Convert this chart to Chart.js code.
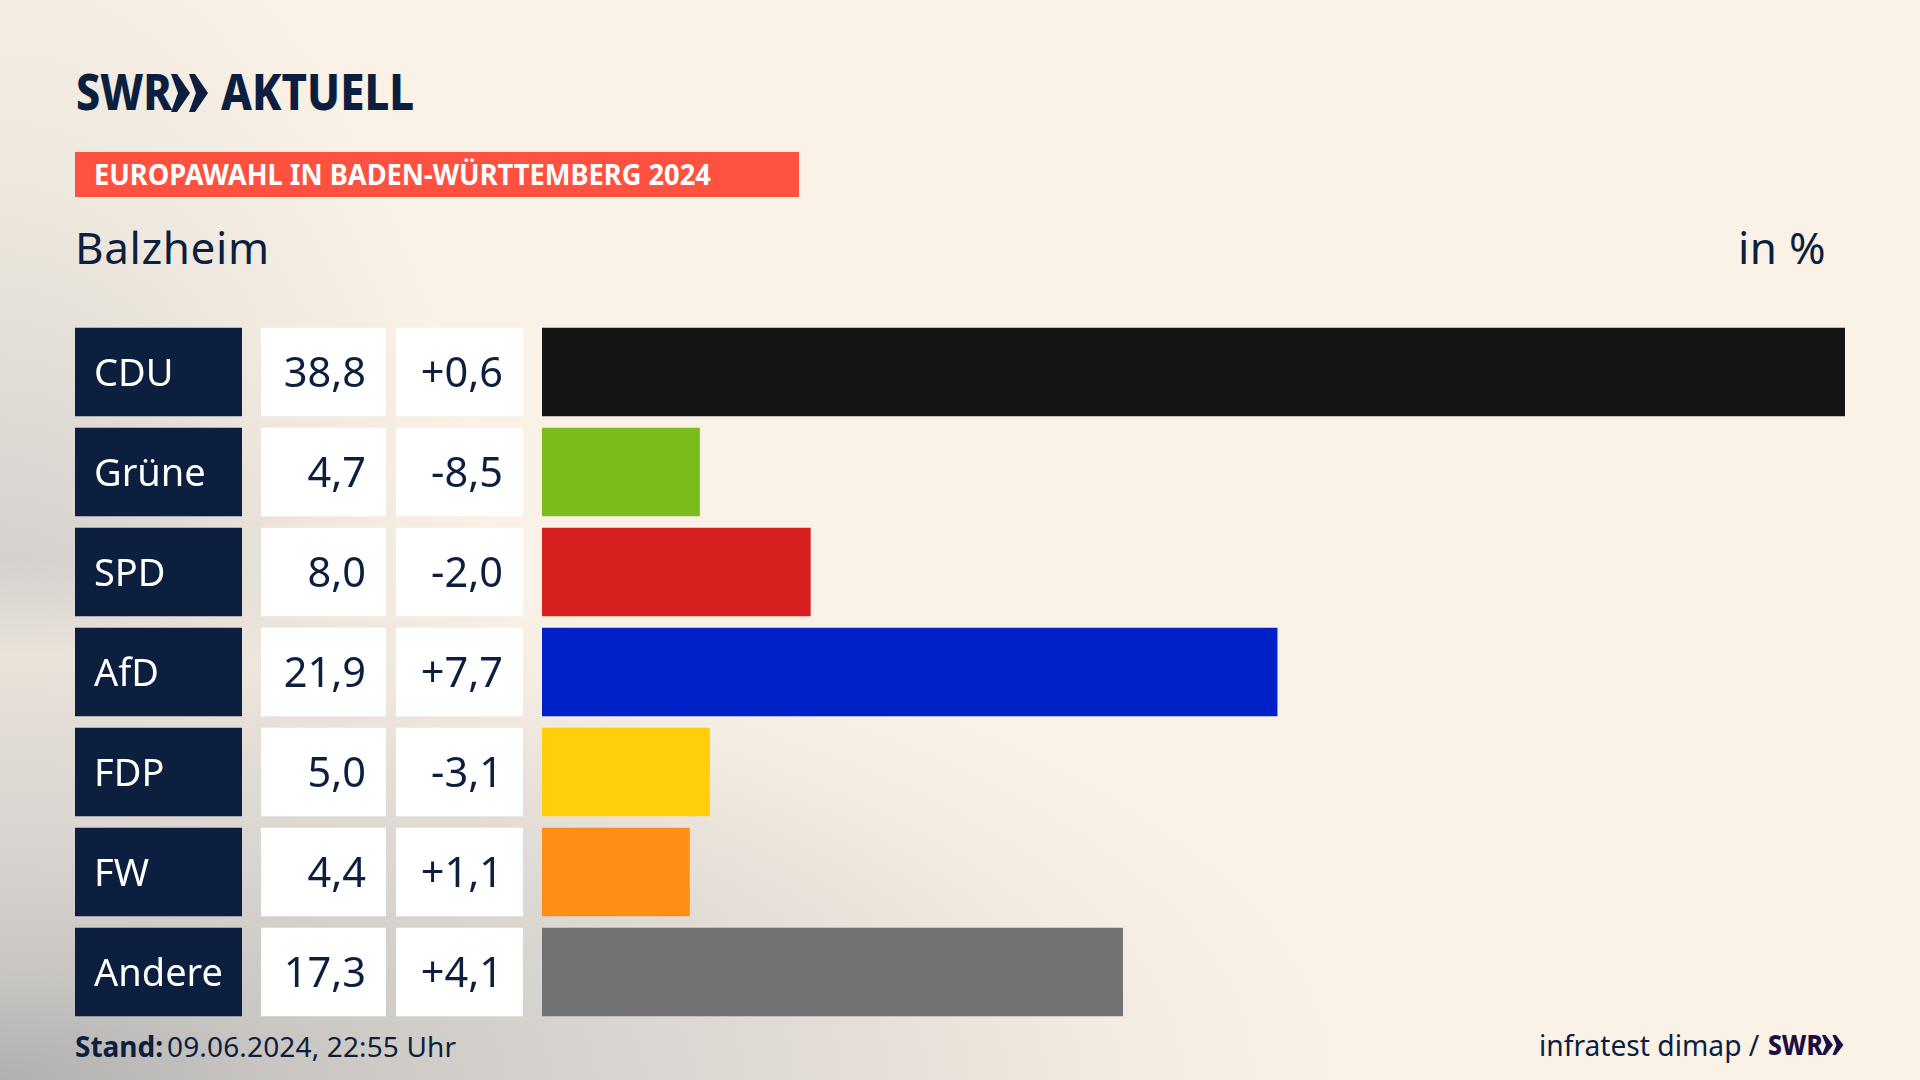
<!DOCTYPE html>
<html lang="de">
<head>
<meta charset="utf-8">
<title>Europawahl Balzheim</title>
<script src="https://cdn.jsdelivr.net/npm/chart.js@4"></script>
<style>
  html, body { margin: 0; padding: 0; }
  body {
    width: 1920px; height: 1080px; overflow: hidden; position: relative;
    font-family: "Noto Sans", sans-serif; color: #0c1f3f;
    background:
      radial-gradient(ellipse 1350px 520px at 0 100%, #b0b0b0 0%, #cac7c3 22%, #d8d4cf 45%, rgba(229,222,215,.9) 67%, rgba(241,233,223,.8) 82%, rgba(251,242,231,0) 100%),
      radial-gradient(ellipse 560px 1250px at 0 100%, #b0b0b0 0%, #d8d4cf 45%, rgba(236,230,221,.85) 72%, rgba(251,242,231,0) 100%),
      #fbf2e7;
  }
  canvas { position: absolute; left: 0; top: 0; }
  .txt { position: absolute; white-space: nowrap; line-height: 1; }
  #logo span { position: absolute; top: 0; font-weight: 800; font-size: 50px; line-height: 1; transform-origin: 0 0; }
  #banner { position: absolute; left: 75px; top: 152px; width: 724px; height: 45px; background: #ff5140; }
</style>
</head>
<body>
<div id="logo" class="txt" style="left:75px;top:66px;">
  <span style="left:1px;transform:scaleX(.86);">SWR</span>
  <span style="left:146px;transform:scaleX(.875);">AKTUELL</span>
</div>
<svg style="position:absolute;left:171px;top:74px" width="38" height="38" viewBox="0 0 38 38">
  <polygon fill="#0c1f3f" points="0,0 6,0 19,19 6,38 0,38 7,19"/>
  <polygon fill="#0c1f3f" points="18,0 24,0 37,19 24,38 18,38 25,19"/>
</svg>
<div id="banner"></div>
<div class="txt" id="bannerText" style="left:94px;top:160px;font-size:28px;font-weight:700;color:#fff;transform:scaleX(.973);transform-origin:0 0;">EUROPAWAHL IN BADEN-WÜRTTEMBERG 2024</div>
<div class="txt" style="left:75px;top:225px;font-size:44px;letter-spacing:.6px;">Balzheim</div>
<div class="txt" style="left:1738px;top:225px;font-size:44px;letter-spacing:.3px;">in %</div>
<div class="txt" style="left:75px;top:1032px;font-size:28px;font-weight:700;">Stand:</div>
<div class="txt" style="left:167px;top:1032px;font-size:28px;letter-spacing:.15px;">09.06.2024, 22:55 Uhr</div>
<div class="txt" style="left:1539px;top:1031px;font-size:28.2px;">infratest dimap /</div>
<div class="txt" style="left:1768px;top:1030px;font-size:28px;font-weight:800;color:#1d0f3f;transform:scaleX(.88);transform-origin:0 0;">SWR</div>
<svg style="position:absolute;left:1822px;top:1035px" width="22" height="20" viewBox="0 0 38 38" preserveAspectRatio="none">
  <polygon fill="#1d0f3f" points="0,0 6,0 19,19 6,38 0,38 7,19"/>
  <polygon fill="#1d0f3f" points="18,0 24,0 37,19 24,38 18,38 25,19"/>
</svg>
<canvas id="chart" width="1920" height="1080"></canvas>
<script>
const parties = ['CDU', 'Grüne', 'SPD', 'AfD', 'FDP', 'FW', 'Andere'];
const shares = [38.8, 4.7, 8.0, 21.9, 5.0, 4.4, 17.3];
const changes = [0.6, -8.5, -2.0, 7.7, -3.1, 1.1, 4.1];
const partyColors = ['#141414', '#7abd1a', '#d7201f', '#0021c7', '#ffcf0a', '#ff8e16', '#717273'];

const fmt = v => v.toFixed(1).replace('.', ',');
const fmtChange = v => (v > 0 ? '+' : '') + fmt(v);

// table cells to the left of the bars, rows taken from the y scale
const tableCells = {
  id: 'tableCells',
  afterDatasetsDraw(chart) {
    const { ctx, scales: { y } } = chart;
    const h = 88.5;
    ctx.save();
    ctx.textBaseline = 'middle';
    parties.forEach((name, i) => {
      const cy = y.getPixelForValue(i);
      const top = cy - h / 2;
      ctx.fillStyle = '#0c1f3f';
      ctx.fillRect(75, top, 167, h);
      ctx.fillStyle = '#fff';
      ctx.fillRect(261, top, 125, h);
      ctx.fillRect(396, top, 127, h);
      ctx.font = '38px "Noto Sans"';
      ctx.textAlign = 'left';
      ctx.fillText(name, 94, cy + 3);
      ctx.font = '41.5px "Noto Sans"';
      ctx.fillStyle = '#0c1f3f';
      ctx.textAlign = 'right';
      ctx.fillText(fmt(shares[i]), 366, cy + 3);
      ctx.fillText(fmtChange(changes[i]), 503, cy + 3);
    });
    ctx.restore();
  }
};

new Chart(document.getElementById('chart'), {
  type: 'bar',
  data: {
    labels: parties,
    datasets: [{
      data: shares,
      backgroundColor: partyColors,
      borderWidth: 0,
      barPercentage: 0.885,
      categoryPercentage: 1
    }]
  },
  options: {
    indexAxis: 'y',
    responsive: false,
    animation: false,
    devicePixelRatio: 1,
    layout: { padding: { left: 542, right: 75, top: 322, bottom: 58 } },
    scales: {
      x: { display: false, min: 0, max: 38.8 },
      y: { display: false }
    },
    plugins: { legend: { display: false }, tooltip: { enabled: false } }
  },
  plugins: [tableCells]
});
</script>
</body>
</html>
